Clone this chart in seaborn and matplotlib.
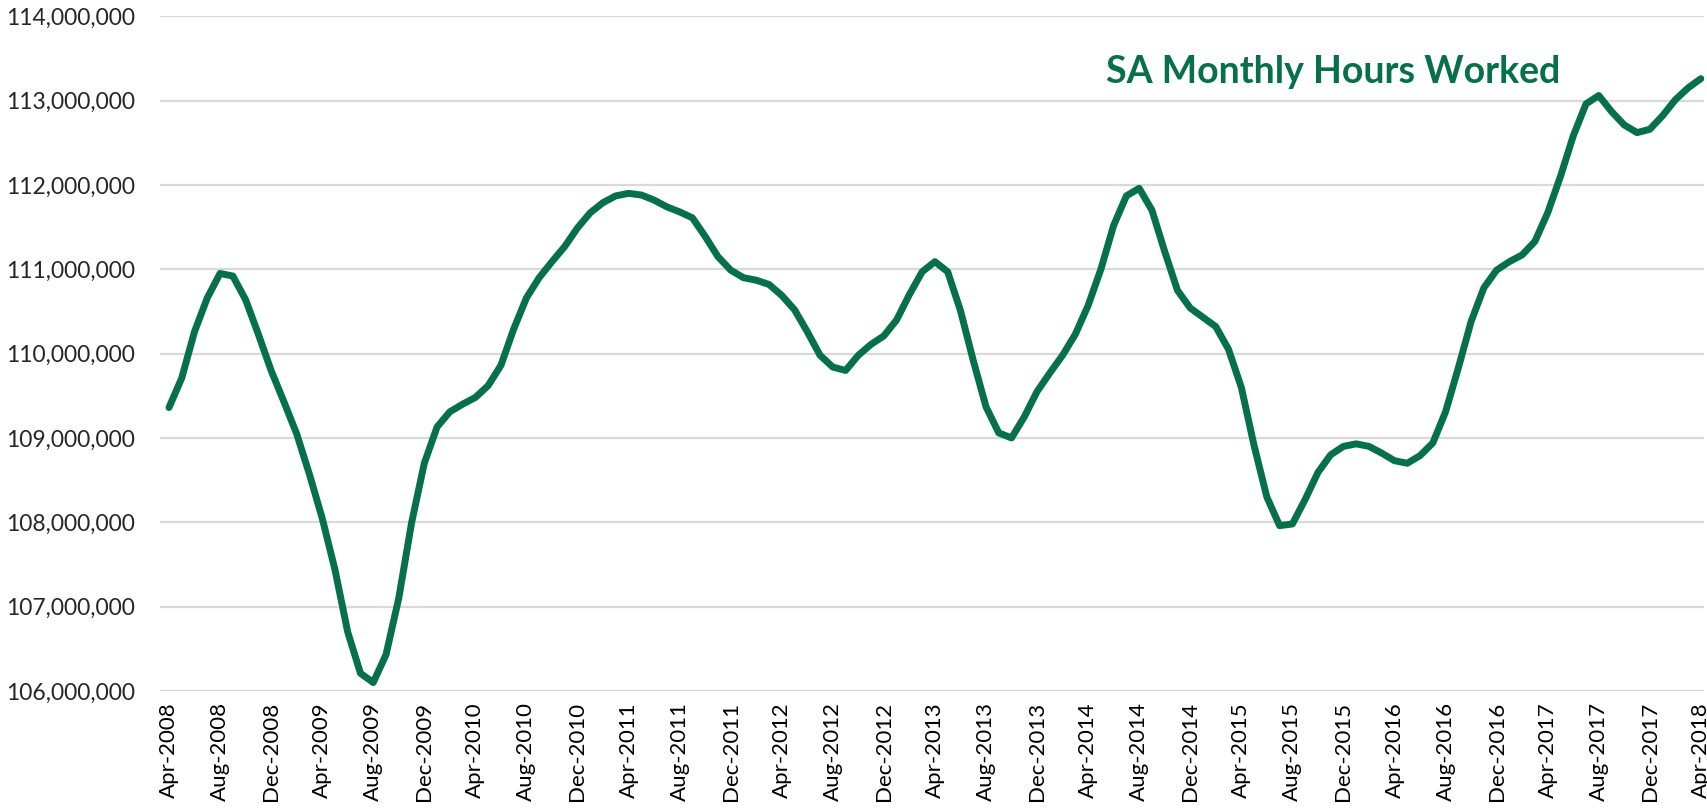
import numpy as np
import pandas as pd
import matplotlib
matplotlib.use("Agg")
import matplotlib.pyplot as plt
import seaborn as sns
from matplotlib.ticker import FuncFormatter

# Monthly hours worked (millions), Apr-2008 .. Apr-2018
hours_2008 = [109.36, 109.71, 110.26, 110.66, 110.95, 110.92, 110.64, 110.23, 109.80]
hours_2009 = [109.43, 109.05, 108.57, 108.05, 107.44, 106.70, 106.21, 106.10, 106.43, 107.10, 107.99, 108.70]
hours_2010 = [109.13, 109.31, 109.40, 109.48, 109.62, 109.86, 110.29, 110.66, 110.90, 111.09, 111.27, 111.49]
hours_2011 = [111.67, 111.79, 111.87, 111.90, 111.88, 111.82, 111.74, 111.68, 111.61, 111.39, 111.15, 110.99]
hours_2012 = [110.90, 110.87, 110.82, 110.69, 110.52, 110.26, 109.98, 109.84, 109.80, 109.98, 110.11, 110.21]
hours_2013 = [110.40, 110.70, 110.97, 111.09, 110.97, 110.51, 109.92, 109.37, 109.06, 109.00, 109.25, 109.55]
hours_2014 = [109.77, 109.98, 110.23, 110.57, 111.00, 111.52, 111.87, 111.96, 111.70, 111.21, 110.75, 110.54]
hours_2015 = [110.43, 110.32, 110.05, 109.60, 108.91, 108.30, 107.96, 107.98, 108.27, 108.59, 108.80, 108.90]
hours_2016 = [108.93, 108.90, 108.82, 108.73, 108.70, 108.79, 108.94, 109.31, 109.83, 110.38, 110.78, 110.99]
hours_2017 = [111.09, 111.17, 111.33, 111.67, 112.10, 112.58, 112.96, 113.06, 112.87, 112.71, 112.62, 112.66]
hours_2018 = [112.82, 113.01, 113.15, 113.26]

hours = (hours_2008 + hours_2009 + hours_2010 + hours_2011 + hours_2012 + hours_2013
         + hours_2014 + hours_2015 + hours_2016 + hours_2017 + hours_2018)
months = pd.date_range("2008-04-01", periods=len(hours), freq="MS").strftime("%b-%Y").tolist()

df = pd.DataFrame({"idx": np.arange(len(hours)), "month": months,
                   "hours": np.array(hours) * 1e6})

GREEN = "#05704A"

sns.set_style("white")
plt.rcParams["font.family"] = ["Lato", "DejaVu Sans"]

fig = plt.figure(figsize=(17.08, 8.11), dpi=100)
ax = fig.add_axes([0.0937, 0.148, 0.904, 0.832])

sns.lineplot(data=df, x="idx", y="hours", ax=ax, color=GREEN, linewidth=5.0,
             solid_joinstyle="round", solid_capstyle="round")

ax.set_ylim(106e6, 114e6)
ax.set_xlim(-0.7, 120.25)
ax.set_yticks(np.arange(106e6, 114e6 + 1, 1e6))
ax.yaxis.set_major_formatter(FuncFormatter(lambda v, p: f"{v:,.0f}"))
ax.set_xticks(df["idx"][::4])
ax.set_xticklabels(df["month"][::4], rotation=90)

ax.grid(axis="y", color="#D9D9D9", linewidth=1.6)
ax.set_axisbelow(True)
for s in ax.spines.values():
    s.set_visible(False)
ax.tick_params(axis="y", length=0, pad=18, labelsize=16.5, labelcolor="#262626")
ax.tick_params(axis="x", length=0, pad=8, labelsize=16, labelcolor="#000000")
ax.set_xlabel("")
ax.set_ylabel("")

ax.text(0.760, 0.918, "SA Monthly Hours Worked", transform=ax.transAxes,
        ha="center", va="center", fontsize=27, fontweight="bold", color=GREEN)

fig.savefig("out.png", dpi=100)
